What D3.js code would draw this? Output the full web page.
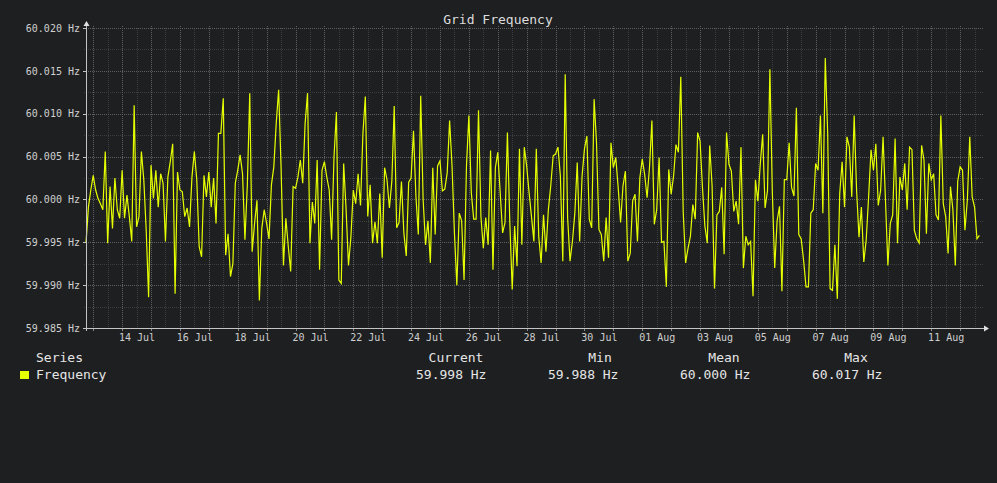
<!DOCTYPE html>
<html>
<head>
<meta charset="utf-8">
<script src="https://cdn.jsdelivr.net/npm/d3@7"></script>
<style>
  html, body { margin: 0; padding: 0; background: #1e1f21; }
  svg { display: block; font-family: "DejaVu Sans Mono", monospace; }
  .axis text { fill: #cfcfcf; font-size: 10px; font-family: "DejaVu Sans Mono", monospace; }
  .axis .domain { display: none; }
</style>
</head>
<body>
<svg id="chart" width="997" height="483"></svg>
<script>
// samples every 2 hours starting 12 Jul 18:00 UTC
var startTime = new Date(Date.UTC(2024, 6, 12, 18));
var endTime = new Date(Date.UTC(2024, 7, 12, 19));
var stepHours = 2;

var frequency = [
  59.9949, 59.9991, 60.0011, 60.0028, 60.0011, 60.0001, 59.9995, 59.9988, 60.0056, 59.9949, 60.0015, 59.9966,
  60.0025, 59.9988, 59.9978, 60.0034, 59.9978, 60.0005, 59.9980, 59.9951, 60.0110, 59.9968, 59.9980, 60.0056,
  60.0023, 59.9964, 59.9886, 60.0040, 60.0001, 60.0034, 59.9991, 60.0030, 60.0019, 59.9951, 60.0026, 60.0044,
  60.0065, 59.9890, 60.0032, 60.0011, 60.0009, 59.9980, 59.9990, 59.9968, 60.0026, 60.0056, 60.0023, 59.9945,
  59.9933, 60.0028, 60.0003, 60.0032, 59.9991, 60.0025, 59.9972, 60.0077, 60.0077, 60.0118, 59.9935, 59.9960,
  59.9910, 59.9925, 60.0019, 60.0034, 60.0052, 60.0030, 59.9953, 60.0017, 60.0124, 59.9939, 59.9972, 59.9999,
  59.9882, 59.9966, 59.9988, 59.9972, 59.9954, 60.0017, 60.0038, 60.0089, 60.0128, 60.0038, 59.9923, 59.9978,
  59.9945, 59.9916, 60.0015, 60.0013, 60.0026, 60.0046, 60.0019, 60.0089, 60.0124, 59.9949, 59.9997, 59.9972,
  60.0046, 59.9918, 60.0034, 60.0044, 60.0026, 60.0011, 59.9953, 60.0050, 60.0102, 59.9906, 59.9902, 60.0042,
  59.9989, 59.9923, 59.9956, 60.0011, 59.9995, 60.0030, 59.9993, 60.0077, 60.0120, 59.9980, 60.0017, 59.9949,
  59.9974, 59.9949, 60.0007, 59.9932, 60.0037, 60.0023, 59.9990, 60.0021, 60.0109, 59.9967, 59.9973, 60.0021,
  59.9961, 59.9934, 60.0020, 60.0025, 60.0080, 60.0004, 59.9959, 60.0121, 60.0000, 59.9947, 59.9975, 59.9926,
  60.0037, 59.9959, 60.0039, 60.0045, 60.0010, 60.0012, 60.0031, 60.0092, 60.0039, 59.9961, 59.9900, 59.9984,
  59.9975, 59.9906, 60.0039, 60.0098, 60.0008, 59.9977, 59.9977, 60.0104, 59.9980, 59.9943, 59.9979, 59.9947,
  60.0057, 59.9918, 60.0037, 60.0055, 60.0008, 59.9961, 59.9973, 60.0078, 59.9973, 59.9895, 59.9969, 59.9922,
  60.0059, 59.9947, 60.0061, 60.0039, 60.0008, 59.9980, 59.9951, 60.0059, 59.9957, 59.9926, 59.9982, 59.9939,
  59.9988, 60.0016, 60.0051, 60.0053, 60.0061, 60.0027, 59.9928, 60.0146, 59.9979, 59.9928, 59.9951, 59.9984,
  60.0043, 59.9951, 60.0027, 60.0059, 60.0074, 59.9977, 59.9967, 60.0117, 60.0066, 59.9965, 59.9959, 59.9928,
  59.9979, 59.9932, 60.0066, 60.0037, 60.0049, 60.0014, 59.9973, 60.0016, 60.0033, 59.9928, 59.9937, 59.9998,
  60.0006, 59.9951, 60.0025, 60.0047, 60.0029, 60.0002, 60.0037, 60.0092, 59.9971, 59.9988, 60.0049, 59.9950,
  59.9951, 59.9898, 60.0035, 60.0006, 60.0027, 60.0064, 60.0055, 60.0143, 59.9986, 59.9926, 59.9943, 59.9957,
  59.9994, 59.9977, 60.0078, 60.0068, 60.0014, 59.9969, 59.9949, 60.0063, 60.0016, 59.9896, 59.9982, 59.9986,
  60.0014, 59.9936, 60.0078, 60.0041, 60.0033, 59.9986, 59.9998, 59.9971, 60.0061, 59.9920, 59.9957, 59.9947,
  59.9951, 59.9887, 60.0023, 59.9998, 60.0041, 60.0076, 59.9990, 60.0010, 60.0152, 60.0010, 59.9920, 59.9975,
  59.9992, 59.9893, 60.0023, 60.0023, 60.0066, 60.0014, 60.0004, 60.0107, 59.9959, 59.9954, 59.9929, 59.9898,
  59.9898, 59.9984, 59.9988, 60.0042, 60.0034, 60.0098, 59.9984, 60.0165, 60.0077, 59.9896, 59.9894, 59.9947,
  59.9884, 60.0007, 60.0044, 59.9991, 60.0073, 60.0061, 60.0003, 60.0098, 60.0011, 59.9956, 59.9991, 59.9927,
  59.9953, 60.0003, 60.0058, 60.0034, 60.0065, 59.9993, 60.0011, 60.0073, 59.9999, 59.9923, 59.9972, 59.9982,
  60.0071, 59.9949, 60.0026, 60.0011, 60.0042, 59.9988, 60.0061, 60.0058, 59.9964, 59.9954, 59.9949, 60.0063,
  60.0046, 59.9960, 60.0042, 60.0023, 60.0030, 59.9982, 59.9976, 60.0098, 59.9995, 59.9980, 59.9937, 60.0015,
  59.9988, 59.9923, 60.0021, 60.0038, 60.0034, 59.9964, 59.9999, 60.0073, 60.0003, 59.9991, 59.9954, 59.9958
];

var yTicks = [59.985, 59.990, 59.995, 60.000, 60.005, 60.010, 60.015, 60.020];
var legendHeaders = ["Current", "Min", "Mean", "Max"];
var legendValues = ["59.998 Hz", "59.988 Hz", "60.000 Hz", "60.017 Hz"];

var svg = d3.select('#chart');
var margin = { top: 28, left: 86, bottom: 155, right: 14 };
var svgWidth = +svg.attr('width');
var svgHeight = +svg.attr('height');
var lineColor = '#e6ff00';
var axisColor = '#c4c4c4';

var data = frequency.map(function(v, i) {
    return { t: d3.utcHour.offset(startTime, i * stepHours), v: v };
});

svg.append('rect')
    .attr('width', svgWidth).attr('height', svgHeight)
    .attr('fill', '#1e1f21');

/////////////////////////////////////////////////////////////////////
//                        SCALES                                   //
/////////////////////////////////////////////////////////////////////
var xScale = d3.scaleUtc()
    .domain([startTime, endTime])
    .range([margin.left, svgWidth - margin.right]);

var yScale = d3.scaleLinear()
    .domain([yTicks[0], yTicks[yTicks.length - 1]])
    .range([svgHeight - margin.bottom, margin.top]);

var x0 = xScale.range()[0], x1 = xScale.range()[1];
var yTop = yScale.range()[1], yBot = yScale.range()[0];

var midnights = d3.utcDay.range(d3.utcDay.ceil(startTime), endTime);
var noons = midnights.map(function(d) { return d3.utcHour.offset(d, 12); })
    .filter(function(d) { return d < endTime; });
var labelDays = d3.utcDay.range(new Date(Date.UTC(2024, 6, 14)), endTime, 2)
    .map(function(d) { return d3.utcHour.offset(d, 12); });
var minorY = d3.range(yTicks.length - 1).map(function(i) { return (yTicks[i] + yTicks[i + 1]) / 2; });

/////////////////////////////////////////////////////////////////////
//                        GRID                                     //
/////////////////////////////////////////////////////////////////////
var grid = svg.append('g').attr('shape-rendering', 'crispEdges');

function px(v) { return Math.round(v) + 0.5; }

grid.selectAll('.vMinor').data(noons).enter().append('line')
    .attr('x1', function(d) { return px(xScale(d)); })
    .attr('x2', function(d) { return px(xScale(d)); })
    .attr('y1', yTop).attr('y2', yBot)
    .attr('stroke', '#3b3c3f').attr('stroke-dasharray', '1,1');

grid.selectAll('.hMinor').data(minorY).enter().append('line')
    .attr('x1', x0 - 2).attr('x2', x1)
    .attr('y1', function(d) { return px(yScale(d)); })
    .attr('y2', function(d) { return px(yScale(d)); })
    .attr('stroke', '#3b3c3f').attr('stroke-dasharray', '1,1');

grid.selectAll('.vMajor').data(midnights).enter().append('line')
    .attr('x1', function(d) { return px(xScale(d)); })
    .attr('x2', function(d) { return px(xScale(d)); })
    .attr('y1', yTop - 2).attr('y2', yBot)
    .attr('stroke', '#5e5f62').attr('stroke-dasharray', '1,1');

grid.selectAll('.hMajor').data(yTicks.slice(1)).enter().append('line')
    .attr('x1', x0).attr('x2', x1)
    .attr('y1', function(d) { return px(yScale(d)); })
    .attr('y2', function(d) { return px(yScale(d)); })
    .attr('stroke', '#5e5f62').attr('stroke-dasharray', '1,1');

/////////////////////////////////////////////////////////////////////
//                        LINE                                     //
/////////////////////////////////////////////////////////////////////
var line = d3.line()
    .x(function(d) { return xScale(d.t); })
    .y(function(d) { return yScale(d.v); });

svg.append('path')
    .datum(data)
    .attr('fill', 'none')
    .attr('stroke', lineColor)
    .attr('stroke-width', 1.2)
    .attr('stroke-linejoin', 'miter')
    .attr('d', line);

/////////////////////////////////////////////////////////////////////
//                        AXES                                     //
/////////////////////////////////////////////////////////////////////
var yAxis = d3.axisLeft(yScale)
    .tickValues(yTicks)
    .tickSize(3)
    .tickPadding(3)
    .tickFormat(function(d) { return d3.format('.3f')(d) + ' Hz'; });

svg.append('g')
    .attr('class', 'y axis')
    .attr('transform', 'translate(' + [px(x0) - 0.5, 0] + ')')
    .attr('shape-rendering', 'crispEdges')
    .call(yAxis)
    .call(g => g.selectAll('.tick line').attr('stroke', axisColor));

var xTickAxis = d3.axisBottom(xScale)
    .tickValues(midnights)
    .tickSize(3)
    .tickFormat('');

svg.append('g')
    .attr('class', 'x axis')
    .attr('transform', 'translate(0,' + yBot + ')')
    .attr('shape-rendering', 'crispEdges')
    .call(xTickAxis)
    .call(g => g.selectAll('.tick line').attr('stroke', '#8a8a8a'));

var xAxis = d3.axisBottom(xScale)
    .tickValues(labelDays)
    .tickSize(0)
    .tickPadding(6)
    .tickFormat(d3.utcFormat('%d %b'));

svg.append('g')
    .attr('class', 'x axis')
    .attr('transform', 'translate(0,' + yBot + ')')
    .call(xAxis);

// axis lines with arrows
svg.append('line')
    .attr('x1', px(x0)).attr('x2', px(x0))
    .attr('y1', yBot + 3).attr('y2', yTop - 4)
    .attr('stroke', axisColor).attr('shape-rendering', 'crispEdges');
svg.append('path')
    .attr('d', 'M' + [px(x0), yTop - 7] + 'L' + [px(x0) + 3, yTop - 2] + 'L' + [px(x0) - 3, yTop - 2] + 'Z')
    .attr('fill', '#e0e0e0');

svg.append('line')
    .attr('x1', x0 - 3).attr('x2', x1 + 2)
    .attr('y1', px(yBot)).attr('y2', px(yBot))
    .attr('stroke', axisColor).attr('shape-rendering', 'crispEdges');
svg.append('path')
    .attr('d', 'M' + [x1 + 6, px(yBot)] + 'L' + [x1 + 1, px(yBot) - 3] + 'L' + [x1 + 1, px(yBot) + 3] + 'Z')
    .attr('fill', '#e0e0e0');

/////////////////////////////////////////////////////////////////////
//                        TITLE & LEGEND                           //
/////////////////////////////////////////////////////////////////////
svg.append('text')
    .attr('x', 498).attr('y', 24)
    .attr('text-anchor', 'middle')
    .attr('fill', '#dcdcdc')
    .style('font-size', '13px')
    .text('Grid Frequency');

var legend = svg.append('g').style('font-size', '13px').attr('fill', '#e6e6e6');
legend.append('text').attr('x', 36).attr('y', 362).text('Series');
legend.append('rect')
    .attr('x', 20).attr('y', 371).attr('width', 9).attr('height', 8)
    .attr('fill', lineColor);
legend.append('text').attr('x', 36).attr('y', 379).text('Frequency');

var headerX = [456, 600, 724, 856];
var valueX = [416, 548, 680, 812];
legend.selectAll('.hdr').data(legendHeaders).enter().append('text')
    .attr('x', function(d, i) { return headerX[i]; })
    .attr('y', 362)
    .attr('text-anchor', 'middle')
    .text(function(d) { return d; });
legend.selectAll('.val').data(legendValues).enter().append('text')
    .attr('x', function(d, i) { return valueX[i]; })
    .attr('y', 379)
    .text(function(d) { return d; });
</script>
</body>
</html>
